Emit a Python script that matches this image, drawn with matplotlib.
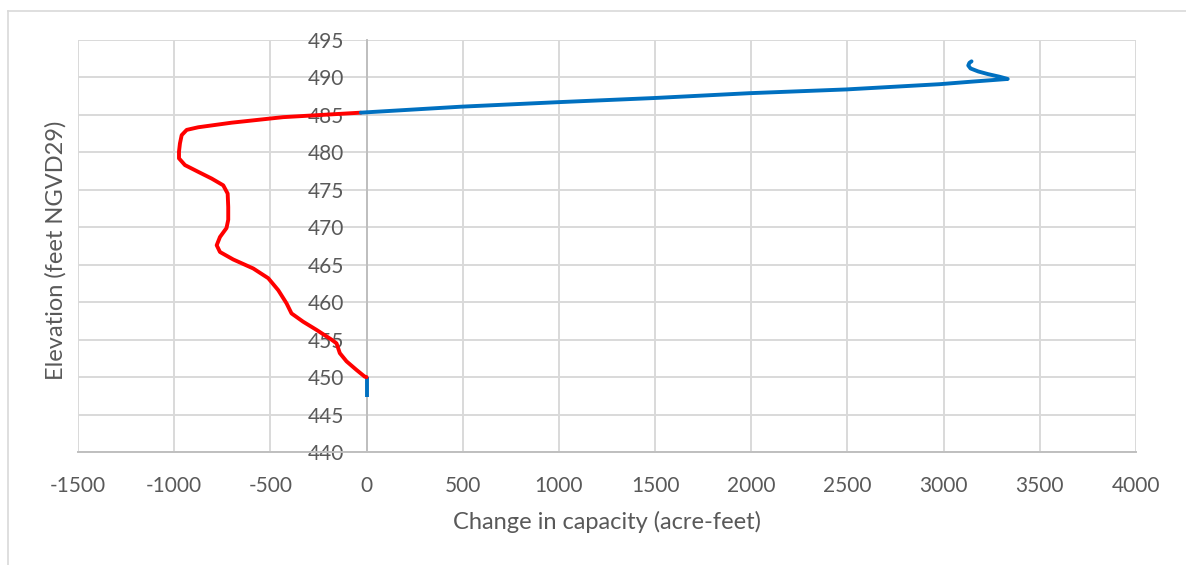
import matplotlib
matplotlib.use("Agg")
import matplotlib.pyplot as plt
from matplotlib.lines import Line2D

# Data
blue_low_x = [0, 0]
blue_low_y = [447.3, 450.0]

red_x = [0, -9, -52, -104, -139, -156, -182, -260, -330, -390, -416, -459, -511,
         -589, -693, -762, -779, -762, -728, -719, -719, -722, -745, -805, -875,
         -944, -975, -975, -970, -961, -935, -875, -702, -434, -30]
red_y = [450.0, 450.05, 450.95, 452.1, 453.2, 454.5, 455.0, 456.3, 457.4, 458.5,
         459.85, 461.6, 463.2, 464.5, 465.7, 466.7, 467.6, 468.7, 469.9, 471.0,
         472.7, 474.5, 475.6, 476.5, 477.4, 478.3, 479.2, 480.1, 481.2, 482.3,
         483.0, 483.35, 483.96, 484.7, 485.3]

blue_high_x = [-30, 493, 995, 1492, 1991, 2493, 2979, 3151, 3333, 3290, 3230,
               3180, 3140, 3128, 3134, 3145]
blue_high_y = [485.3, 486.1, 486.7, 487.25, 487.9, 488.4, 489.1, 489.45, 489.8,
               490.1, 490.45, 490.8, 491.2, 491.6, 491.95, 492.15]

x_ticks = [-1500, -1000, -500, 0, 500, 1000, 1500, 2000, 2500, 3000, 3500, 4000]
y_ticks = [440, 445, 450, 455, 460, 465, 470, 475, 480, 485, 490, 495]

plt.rcParams['font.family'] = ['Lato', 'DejaVu Sans']
plt.rcParams['axes.unicode_minus'] = False
W, H = 1186, 565
fig = plt.figure(figsize=(W / 100, H / 100), dpi=100)
ax = fig.add_axes([78 / W, 1 - 452 / H, (1136 - 78) / W, (452 - 40) / H])

grid_c = '#d9d9d9'
text_c = '#595959'

ax.set_xlim(-1500, 4000)
ax.set_ylim(440, 495)
ax.set_xticks(x_ticks)
ax.set_yticks(y_ticks)
ax.grid(True, color=grid_c, linewidth=1.4)
ax.set_axisbelow(True)

for s in ['top', 'right']:
    ax.spines[s].set_visible(False)
ax.spines['left'].set_position(('data', 0))
ax.spines['left'].set_color('#bfbfbf')
ax.spines['left'].set_linewidth(1.4)
ax.spines['left'].set_zorder(1)
ax.spines['bottom'].set_color('#bfbfbf')
ax.spines['bottom'].set_linewidth(1.4)

ax.tick_params(axis='y', length=0, pad=16, labelsize=15, labelcolor=text_c)
ax.tick_params(axis='x', length=0, pad=17, labelsize=15, labelcolor=text_c)

lw = 2.8
ax.plot(blue_low_x, blue_low_y, color='#0070C0', lw=lw, solid_capstyle='butt', zorder=3)
ax.plot(red_x, red_y, color='#FF0000', lw=lw, solid_joinstyle='round',
        solid_capstyle='round', zorder=3)
ax.plot(blue_high_x, blue_high_y, color='#0070C0', lw=lw, solid_joinstyle='round',
        solid_capstyle='round', zorder=3)

fig.text(607 / W, 1 - 522 / H, 'Change in capacity (acre-feet)', ha='center',
         va='center', fontsize=17, color=text_c)
fig.text(56 / W, 1 - 250 / H, 'Elevation (feet NGVD29)', ha='center',
         va='center', rotation=90, fontsize=17, color=text_c)

# outer chart frame
fig.add_artist(Line2D([8 / W, 8 / W], [0, 1 - 11 / H], transform=fig.transFigure,
                      color=grid_c, lw=1.2))
fig.add_artist(Line2D([8 / W, 1], [1 - 11 / H, 1 - 11 / H], transform=fig.transFigure,
                      color=grid_c, lw=1.2))

fig.savefig('out.png', dpi=100)
